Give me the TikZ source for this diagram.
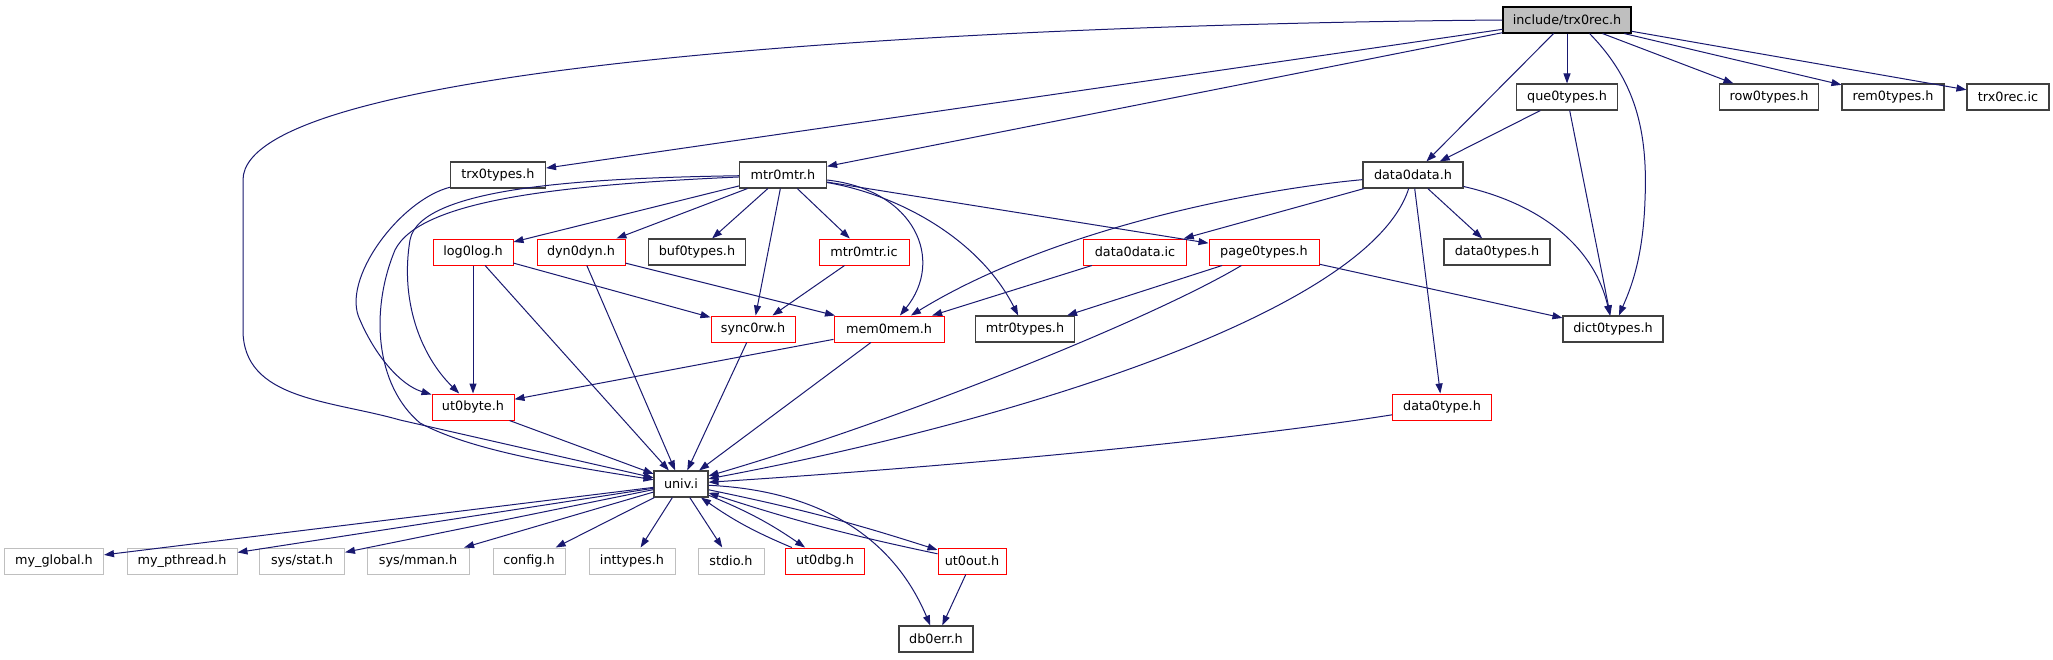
\documentclass[tikz,border=0pt]{standalone}
\usepackage{fontspec}
\setmainfont{DejaVu Sans}
\usetikzlibrary{arrows.meta}

\definecolor{edgeblue}{HTML}{191970}
\definecolor{boxgray}{HTML}{BFBFBF}
\definecolor{boxdark}{HTML}{404040}

\begin{document}
\begin{tikzpicture}[
x=1pt, y=-1pt,
font=\fontsize{12.8pt}{15pt}\selectfont,
hdr/.style={draw=boxdark, line width=1.1pt, fill=white, minimum height=26pt, inner sep=0pt},
redhdr/.style={hdr, draw=red, line width=1pt},
syshdr/.style={hdr, draw=boxgray, line width=1pt},
roothdr/.style={hdr, draw=black, fill=boxgray},
incl/.style={-{Triangle[length=10pt,width=7pt]}, draw=edgeblue, line width=1pt}
]
\path[use as bounding box, fill=white] (0,0) rectangle (2053,659);

\node[roothdr, minimum width=128pt] (root) at (1567,20) {include/trx0rec.h};

\node[hdr, minimum width=101pt] (que0types) at (1567,97) {que0types.h};
\node[hdr, minimum width=99pt] (row0types) at (1769,97) {row0types.h};
\node[hdr, minimum width=102pt] (rem0types) at (1893,97) {rem0types.h};
\node[hdr, minimum width=82pt] (trx0recic) at (2008,97) {trx0rec.ic};

\node[hdr, minimum width=95pt] (trx0types) at (498,175) {trx0types.h};
\node[hdr, minimum width=87pt] (mtr0mtr) at (783,175) {mtr0mtr.h};
\node[hdr, minimum width=100pt] (data0data) at (1413,175) {data0data.h};

\node[redhdr, minimum width=80pt] (log0log) at (473,252) {log0log.h};
\node[redhdr, minimum width=88pt] (dyn0dyn) at (581,252) {dyn0dyn.h};
\node[hdr, minimum width=97pt] (buf0types) at (697,252) {buf0types.h};
\node[redhdr, minimum width=90pt] (mtr0mtric) at (864,252) {mtr0mtr.ic};
\node[redhdr, minimum width=103pt] (data0dataic) at (1135,252) {data0data.ic};
\node[redhdr, minimum width=110pt] (page0types) at (1264,252) {page0types.h};
\node[hdr, minimum width=106pt] (data0types) at (1497,252) {data0types.h};

\node[redhdr, minimum width=84pt] (sync0rw) at (753,329) {sync0rw.h};
\node[redhdr, minimum width=110pt] (mem0mem) at (889,329) {mem0mem.h};
\node[hdr, minimum width=99pt] (mtr0types) at (1025,329) {mtr0types.h};
\node[hdr, minimum width=100pt] (dict0types) at (1613,329) {dict0types.h};

\node[redhdr, minimum width=82pt] (ut0byte) at (473,407) {ut0byte.h};
\node[redhdr, minimum width=99pt] (data0type) at (1442,407) {data0type.h};

\node[hdr, minimum width=54pt] (univ) at (681,484) {univ.i};

\node[syshdr, minimum width=99pt] (myglobal) at (54,561) {my\_global.h};
\node[syshdr, minimum width=110pt] (mypthread) at (182,561) {my\_pthread.h};
\node[syshdr, minimum width=85pt] (sysstat) at (302,561) {sys/stat.h};
\node[syshdr, minimum width=102pt] (sysmman) at (418,561) {sys/mman.h};
\node[syshdr, minimum width=72pt] (config) at (529,561) {config.h};
\node[syshdr, minimum width=86pt] (inttypes) at (632,561) {inttypes.h};
\node[syshdr, minimum width=66pt] (stdio) at (731,561) {stdio.h};
\node[redhdr, minimum width=79pt] (ut0dbg) at (825,561) {ut0dbg.h};
\node[redhdr, minimum width=68pt] (ut0out) at (972,561) {ut0out.h};

\node[hdr, minimum width=74pt] (db0err) at (936,639) {db0err.h};

\draw[incl] (root.west) .. controls (1000,24) and (243,60) .. (243,180) -- (243,330) .. controls (243,400) and (330,400) .. (400,420) -- (univ);
\draw[incl] (root) -- (trx0types);
\draw[incl] (root) -- (mtr0mtr);
\draw[incl] (root) -- (data0data);
\draw[incl] (root) -- (que0types);
\draw[incl] (root.-31) .. controls (1635,80) and (1648,130) .. (1645,200) .. controls (1643,260) and (1630,290) .. (dict0types);
\foreach \t in {row0types, rem0types, trx0recic}
  \draw[incl] (root) -- (\t);

\draw[incl] (que0types) -- (data0data);
\draw[incl] (que0types) -- (dict0types);

\draw[incl] (trx0types) .. controls (400,200) and (340,280) .. (360,320) .. controls (375,355) and (400,385) .. (ut0byte);

\draw[incl] (mtr0mtr) .. controls (600,178) and (420,185) .. (410,240) .. controls (400,300) and (420,355) .. (ut0byte);
\draw[incl] (mtr0mtr) .. controls (560,185) and (420,200) .. (395,250) .. controls (370,310) and (375,385) .. (420,423) .. controls (470,450) and (560,465) .. (univ);
\foreach \t in {log0log, dyn0dyn, buf0types, mtr0mtric, sync0rw, page0types}
  \draw[incl] (mtr0mtr) -- (\t);
\draw[incl] (mtr0mtr) .. controls (915,190) and (945,260) .. (mem0mem);
\draw[incl] (mtr0mtr) .. controls (900,195) and (980,240) .. (mtr0types);

\draw[incl] (data0data) -- (data0dataic);
\draw[incl] (data0data) .. controls (1250,190) and (1050,230) .. (mem0mem);
\draw[incl] (data0data) .. controls (1370,310) and (1020,420) .. (univ);
\draw[incl] (data0data) -- (data0type);
\draw[incl] (data0data) -- (data0types);
\draw[incl] (data0data) .. controls (1545,205) and (1595,250) .. (dict0types);

\draw[incl] (log0log) -- (ut0byte);
\draw[incl] (log0log) -- (univ);
\draw[incl] (log0log) -- (sync0rw);
\draw[incl] (dyn0dyn) -- (mem0mem);
\draw[incl] (dyn0dyn) -- (univ);
\draw[incl] (mtr0mtric) -- (sync0rw);
\draw[incl] (data0dataic) -- (mem0mem);
\draw[incl] (page0types) -- (mtr0types);
\draw[incl] (page0types) .. controls (1150,320) and (900,420) .. (univ);
\draw[incl] (page0types) -- (dict0types);

\draw[incl] (sync0rw) -- (univ);
\draw[incl] (mem0mem) -- (ut0byte);
\draw[incl] (mem0mem) -- (univ);
\draw[incl] (ut0byte) -- (univ);
\draw[incl] (data0type) .. controls (1200,445) and (900,470) .. (univ);

\foreach \t in {myglobal, mypthread, sysstat, sysmman, config, inttypes, stdio}
  \draw[incl] (univ) -- (\t);
\draw[incl] (univ) to[bend left=6] (ut0dbg);
\draw[incl] (ut0dbg) to[bend left=6] (univ);
\draw[incl] (univ) to[bend left=3] (ut0out);
\draw[incl] (ut0out) to[bend left=3] (univ);
\draw[incl] (univ) .. controls (810,490) and (890,530) .. (db0err);
\draw[incl] (ut0out) -- (db0err);
\end{tikzpicture}
\end{document}
